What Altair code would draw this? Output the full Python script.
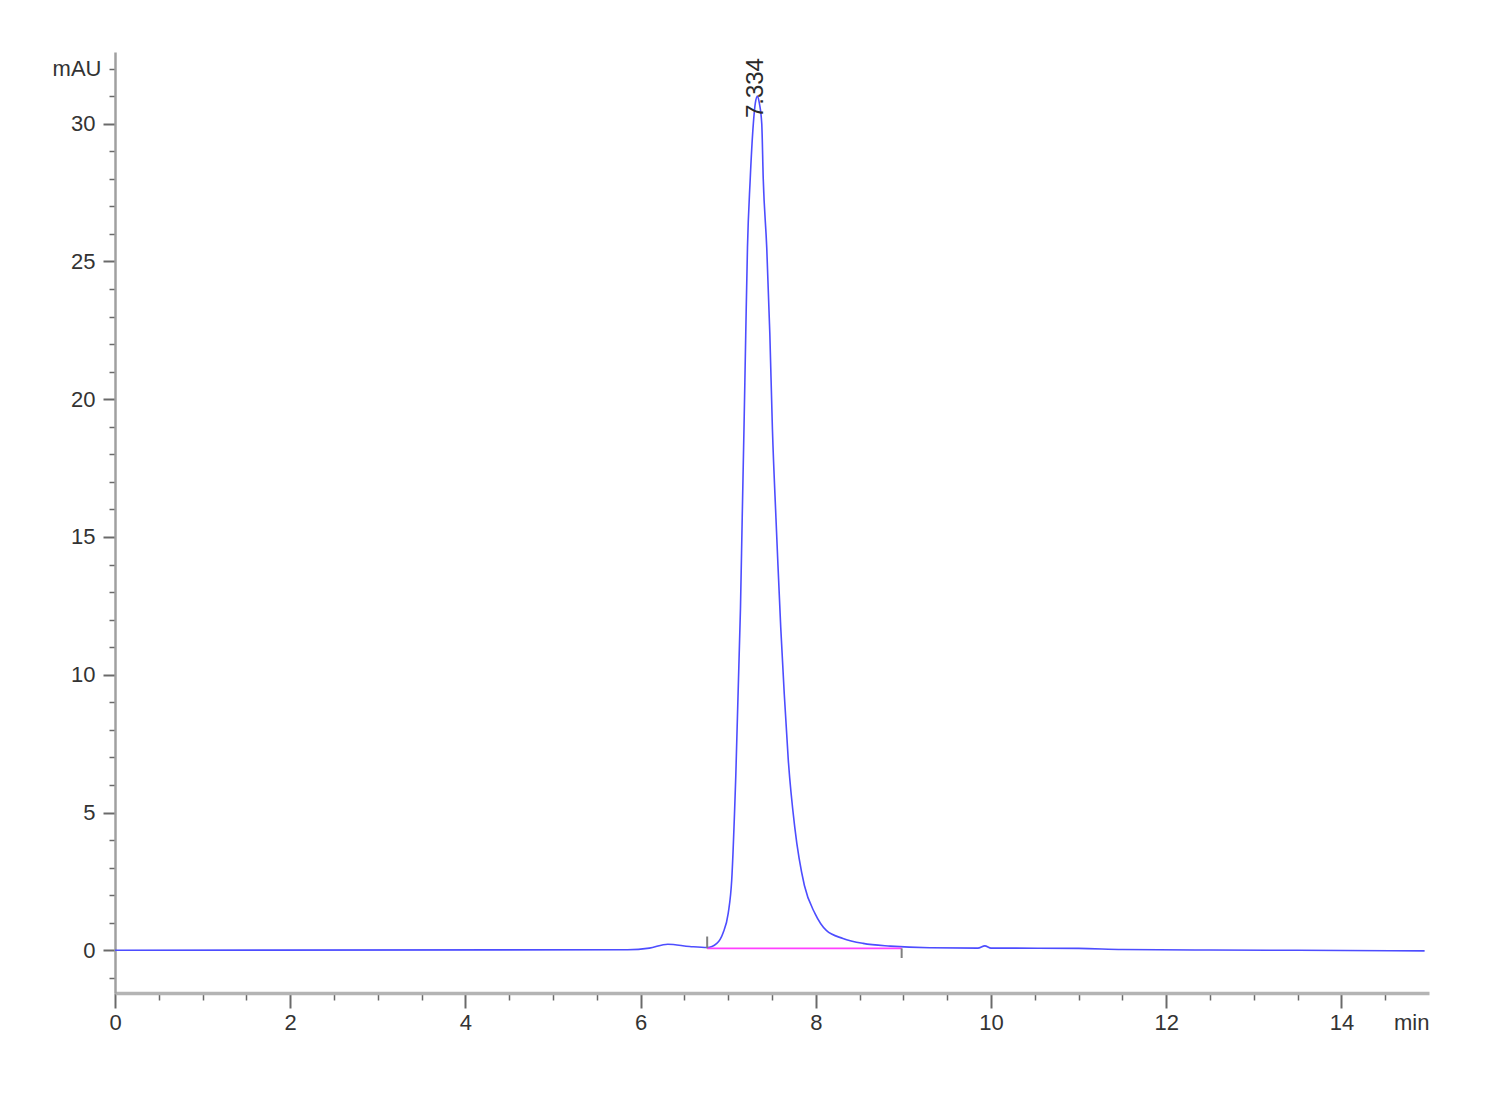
import altair as alt
import pandas as pd

# chromatogram trace (min, mAU)
times = [0.0, 5.85, 6.10, 6.31, 6.56, 6.76, 6.87, 6.94, 7.00, 7.04, 7.085, 7.14, 7.16,
         7.18, 7.20, 7.22, 7.25, 7.287, 7.31, 7.334, 7.355, 7.383, 7.40, 7.44, 7.475,
         7.505, 7.545, 7.565, 7.60, 7.64, 7.686, 7.76, 7.87, 7.99, 8.12, 8.31, 8.54,
         8.85, 9.30, 9.85, 9.93, 10.0, 11.0, 11.5, 12.5, 13.5, 14.95]
values = [0.0, 0.02, 0.08, 0.22, 0.14, 0.10, 0.25, 0.62, 1.34, 2.54, 6.17, 12.4, 15.7,
          18.9, 22.3, 25.5, 27.9, 30.0, 30.75, 31.0, 30.75, 30.0, 28.0, 25.5, 22.4,
          18.9, 15.7, 14.2, 11.7, 9.3, 6.9, 4.46, 2.35, 1.34, 0.72, 0.43, 0.25,
          0.15, 0.09, 0.08, 0.16, 0.08, 0.07, 0.03, 0.01, 0.0, -0.02]

# peak annotation
peak_times = [7.334]
peak_heights = [31.0]
peak_labels = ["7.334"]

# integration baseline
base_start, base_end = 6.76, 8.98
base_level = 0.07
# event markers (x, y, y2)
mark_x = [6.76, 8.98]
mark_y = [0.07, 0.07]
mark_y2 = [0.5, -0.28]

x_ticks = [i * 0.5 for i in range(0, 31)]
y_ticks = list(range(-1, 33))

FONT = "Liberation Sans"

trace = pd.DataFrame({"t": times, "v": values})
peaks = pd.DataFrame({"t": peak_times, "v": peak_heights, "label": peak_labels})
base = pd.DataFrame({"t": [base_start, base_end], "v": [base_level, base_level]})
marks = pd.DataFrame({"t": mark_x, "v": mark_y, "v2": mark_y2})

xscale = alt.Scale(domain=[0, 15], nice=False, zero=False)
yscale = alt.Scale(domain=[-1.55, 32.6], nice=False, zero=False)

x_axis = alt.Axis(
    values=x_ticks,
    tickCount=200,
    title=None,
    grid=False,
    domainColor="#b4b4b4",
    domainWidth=3.5,
    tickColor="#6a6a6a",
    tickWidth={"condition": {"test": "datum.value % 2 === 0", "value": 2}, "value": 1.5},
    tickSize={"condition": {"test": "datum.value % 2 === 0 || datum.value === 15", "value": 15}, "value": 7},
    tickOpacity={"condition": {"test": "datum.value === 15", "value": 0}, "value": 1},
    labelExpr="datum.value === 15 ? 'min' : (datum.value % 2 === 0 ? format(datum.value, 'd') : '')",
    labelAlign={"condition": {"test": "datum.value === 15", "value": "right"}, "value": "center"},
    labelFont=FONT,
    labelFontSize=22,
    labelColor="#333333",
    labelPadding=4,
    labelOverlap=False,
    labelFlush=False,
)

y_axis = alt.Axis(
    values=y_ticks,
    tickCount=200,
    title=None,
    grid=False,
    domainColor="#a0a0a0",
    domainWidth=2.5,
    tickColor="#6a6a6a",
    tickWidth={"condition": {"test": "datum.value % 5 === 0", "value": 2}, "value": 1.5},
    tickSize={"condition": {"test": "datum.value % 5 === 0", "value": 12}, "value": 6},
    labelExpr="datum.value === 32 ? 'mAU' : (datum.value % 5 === 0 ? format(datum.value, 'd') : '')",
    labelFont=FONT,
    labelFontSize=22,
    labelColor="#333333",
    labelPadding=8,
    labelOverlap=False,
    labelFlush=False,
)

line = alt.Chart(trace).mark_line(
    color="#4d4dff", strokeWidth=1.6, interpolate="monotone"
).encode(
    x=alt.X("t:Q", scale=xscale, axis=x_axis),
    y=alt.Y("v:Q", scale=yscale, axis=y_axis),
)

baseline = alt.Chart(base).mark_line(color="#ff40ff", strokeWidth=1.8).encode(
    x=alt.X("t:Q", scale=xscale),
    y=alt.Y("v:Q", scale=yscale),
)

events = alt.Chart(marks).mark_rule(color="#808080", strokeWidth=2).encode(
    x=alt.X("t:Q", scale=xscale),
    y=alt.Y("v:Q", scale=yscale),
    y2="v2:Q",
)

labels = alt.Chart(peaks).mark_text(
    angle=270, align="left", baseline="middle", dx=-22, dy=-1,
    font="Liberation Sans", fontSize=24, color="#2a2a2a",
).encode(
    x=alt.X("t:Q", scale=xscale),
    y=alt.Y("v:Q", scale=yscale),
    text="label:N",
)

chart = alt.layer(line, baseline, events, labels).properties(
    width=1314,
    height=941,
    autosize=alt.AutoSizeParams(type="none"),
    padding={"left": 107, "top": 44, "right": 60, "bottom": 80},
    background="white",
).configure_view(stroke=None)

chart.save("out.html", embed_options={"renderer": "svg", "actions": False})
